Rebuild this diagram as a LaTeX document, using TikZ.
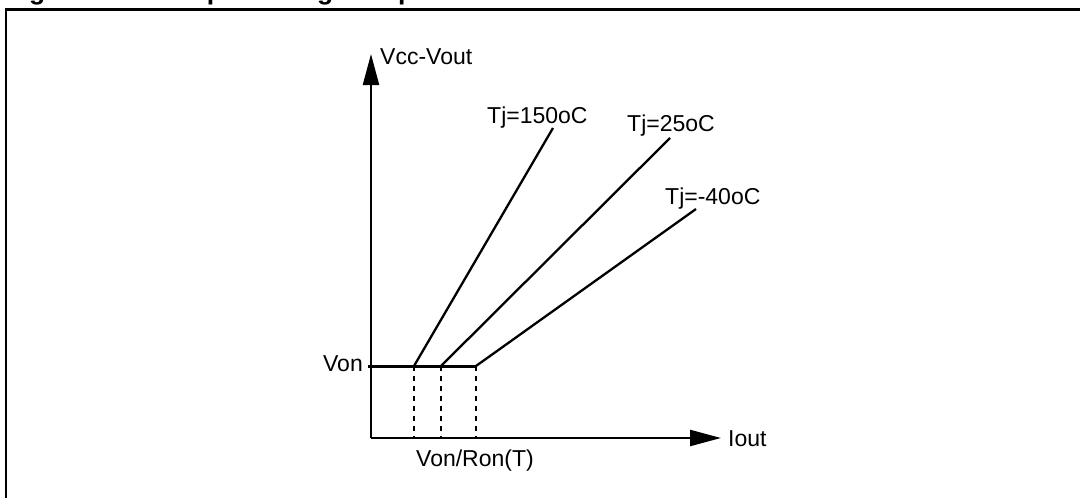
\documentclass[tikz,border=0pt]{standalone}
\usepackage{fontspec}
\setmainfont{Liberation Sans}
\usetikzlibrary{arrows.meta}
\begin{document}
\begin{tikzpicture}[x=1pt,y=-1pt,
  lbl/.style={inner sep=0pt,font=\fontsize{23}{27}\selectfont},
  ttl/.style={inner sep=0pt,font=\fontsize{26.5}{30}\selectfont\bfseries},
  axis/.style={line width=2.3pt,-{Triangle[length=31pt,width=16pt]}},
  curve/.style={line width=2.3pt},
  flat/.style={line width=3pt},
  guide/.style={line width=2.2pt,dash pattern=on 5pt off 5pt}]
\useasboundingbox (0,0) rectangle (1080,498);
% title (cut off at top)
\node[ttl,anchor=base west] (t1) at (5.4,-1) {Figure 5.};
\node[ttl,anchor=base west] (t2) at (161,-1) {Output voltage drop limitation};
% frame
\draw[line width=2.5pt] (1100,9.5) -- (6,9.5) -- (6,520);
% axes
\coordinate (O) at (371,438);
\coordinate (ytip) at (371,54);
\coordinate (xtip) at (721,438);
\draw[axis] (O) -- (ytip);
\draw[axis] (O) -- (xtip);
% points
\coordinate (s0) at (368,366);
\coordinate (a1) at (414,366);
\coordinate (a2) at (441,366);
\coordinate (a3) at (476,366);
\coordinate (f1) at (414,438);
\coordinate (f2) at (441,438);
\coordinate (f3) at (476,438);
\coordinate (b1) at (553,128);
\coordinate (b2) at (670,138);
\coordinate (b3) at (696,209);
\draw[flat] (s0) -- (a3);
\draw[guide] (a1) -- (f1);
\draw[guide] (a2) -- (f2);
\draw[guide] (a3) -- (f3);
\draw[curve] (a1) -- (b1);
\draw[curve] (a2) -- (b2);
\draw[curve] (a3) -- (b3);
% labels
\node[lbl,anchor=base west] (lv) at (380,64.5) {Vcc-Vout};
\node[lbl,anchor=base west] (l150) at (487,123) {Tj=150oC};
\node[lbl,anchor=base west] (l25) at (627,131) {Tj=25oC};
\node[lbl,anchor=base west] (l40) at (665,204) {Tj=-40oC};
\node[lbl,anchor=base east] (lvon) at (363,371) {Von};
\node[lbl,anchor=base west] (lvr) at (416,466) {Von/Ron(T)};
\node[lbl,anchor=base west] (li) at (728,446) {Iout};
\end{tikzpicture}
\end{document}
